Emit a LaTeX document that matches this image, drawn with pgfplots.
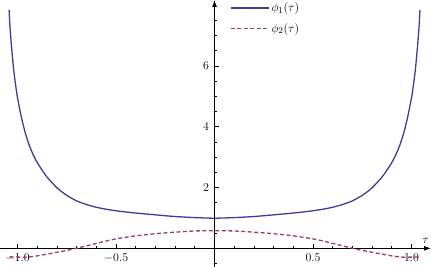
\documentclass[border=0pt]{standalone}
\usepackage{pgfplots}
\pgfplotsset{compat=1.18}
\usetikzlibrary{arrows.meta}
\definecolor{mblue}{rgb}{0.24,0.24,0.6}
\definecolor{mred}{rgb}{0.6,0.24,0.443}
\pgfplotstableread{
t y
-1.043 7.84
-1.038 7.25
-1.030 6.60
-1.020 5.90
-1.010 5.38
-1.000 4.95
-0.980 4.30
-0.960 3.78
-0.940 3.38
-0.920 3.07
-0.900 2.82
-0.875 2.57
-0.850 2.34
-0.800 1.99
-0.750 1.74
-0.700 1.56
-0.650 1.44
-0.600 1.35
-0.550 1.285
-0.500 1.235
-0.450 1.195
-0.400 1.16
-0.300 1.10
-0.200 1.045
-0.100 1.01
0.000 0.99
0.100 1.01
0.200 1.045
0.300 1.10
0.400 1.16
0.450 1.195
0.500 1.235
0.550 1.285
0.600 1.35
0.650 1.44
0.700 1.56
0.750 1.74
0.800 1.99
0.850 2.34
0.875 2.57
0.900 2.82
0.920 3.07
0.940 3.38
0.960 3.78
0.980 4.30
1.000 4.95
1.010 5.38
1.020 5.90
1.030 6.60
1.038 7.25
1.043 7.84
}\phione
\pgfplotstableread{
t y
-1.040 -0.28
-1.000 -0.29
-0.950 -0.29
-0.900 -0.25
-0.850 -0.19
-0.800 -0.13
-0.750 -0.07
-0.700 0.00
-0.650 0.08
-0.600 0.16
-0.550 0.24
-0.500 0.31
-0.400 0.41
-0.300 0.48
-0.200 0.53
-0.100 0.57
0.000 0.58
0.100 0.57
0.200 0.53
0.300 0.48
0.400 0.41
0.500 0.31
0.550 0.24
0.600 0.16
0.650 0.08
0.700 0.00
0.750 -0.07
0.800 -0.13
0.850 -0.19
0.900 -0.25
0.950 -0.29
1.000 -0.29
1.040 -0.28
}\phitwo
\begin{document}
\begin{tikzpicture}
\begin{axis}[
  scale only axis, width=431bp, height=267bp,
  xmin=-1.089, xmax=1.099, ymin=-0.615, ymax=8.168,
  axis lines=middle,
  axis line style={line width=0.9bp, -{Latex[length=7bp,width=5bp]}},
  xtick={-1,-0.5,0.5,1},
  xticklabels={$-1.0$,$-0.5$,$0.5$,$1.0$},
  minor xtick={-1,-0.9,-0.8,-0.7,-0.6,-0.4,-0.3,-0.2,-0.1,0.1,0.2,0.3,0.4,0.6,0.7,0.8,0.9},
  ytick={2,4,6},
  minor ytick={-0.5,0.5,1,1.5,2.5,3,3.5,4.5,5,5.5,6.5,7,7.5},
  tick align=inside,
  major tick length=4bp, minor tick length=2.5bp,
  tick style={black, line width=0.7bp},
  ticklabel style={font=\fontsize{13}{15}\selectfont},
  xticklabel style={yshift=-2bp},
  yticklabel style={xshift=-2bp},
  xlabel={$\tau$},
  xlabel style={at={(axis cs:1.072,0)}, anchor=south, yshift=1bp, font=\fontsize{13}{15}\selectfont},
  legend style={at={(axis cs:0.079,8.15)}, anchor=north west, draw=none, fill=none,
    font=\fontsize{13}{15}\selectfont, inner sep=0pt, row sep=6bp},
  legend cell align=left,
  legend image code/.code={\draw[#1] (0bp,0bp) -- (38bp,0bp);},
]
\addplot[mblue, line width=1.3bp, smooth, tension=0.4] table[x=t,y=y] {\phione};
\addlegendentry{$\phi_1(\tau)$}
\addplot[mred, line width=1.3bp, smooth, tension=0.4, dash pattern=on 4bp off 2.5bp] table[x=t,y=y] {\phitwo};
\addlegendentry{$\phi_2(\tau)$}
\end{axis}
\pgfresetboundingbox
\path (current axis.south west) rectangle (current axis.north east);
\end{tikzpicture}
\end{document}
